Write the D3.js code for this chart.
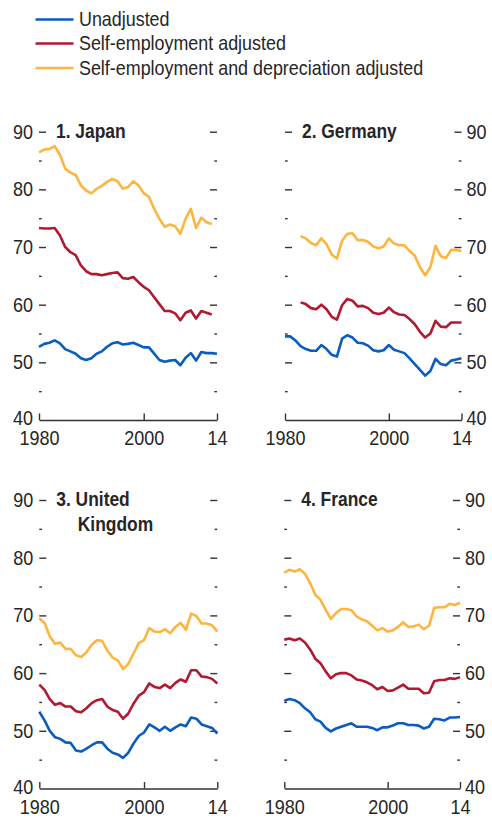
<!DOCTYPE html>
<html>
<head>
<meta charset="utf-8">
<script src="https://cdn.jsdelivr.net/npm/d3@7"></script>
<style>
  html, body { margin: 0; padding: 0; background: #fff; }
  svg text { font-family: "Liberation Sans", Arial, sans-serif; fill: #262626; }
</style>
</head>
<body>
<svg id="chart" width="492" height="821"></svg>
<script>
const years = d3.range(1980, 2015);
const seriesNames = ["Unadjusted", "Self-employment adjusted", "Self-employment and depreciation adjusted"];
const seriesColors = ["#0b5cbf", "#b0192f", "#fdb540"];
const panelTitles = [["1. Japan"], ["2. Germany"], ["3. United", "Kingdom"], ["4. France"]];
const yMajorTicks = [40, 50, 60, 70, 80, 90];
const yMinorTicks = [45, 55, 65, 75, 85];
const xTicks = [1980, 2000, 2014];
const xTickLabels = ["1980", "2000", "14"];

const japanUnadj = [52.7,53.2,53.4,53.8,53.3,52.3,51.9,51.5,50.7,50.4, 50.7,51.5,51.9,52.7,53.3,53.5,53.1,53.2,53.4,53.0, 52.6,52.6,51.5,50.4,50.1,50.3,50.4,49.5,50.8,51.6, 50.3,51.8,51.6,51.6,51.5];
const japanSelf = [73.3,73.2,73.2,73.3,72.0,70.0,69.1,68.6,66.8,65.8, 65.3,65.3,65.1,65.3,65.5,65.6,64.6,64.5,64.8,63.9, 63.1,62.5,61.3,60.1,58.9,58.9,58.5,57.3,58.6,59.0, 57.6,58.9,58.6,58.3,null];
const japanDep = [86.4,86.9,87.0,87.5,86.0,83.6,82.9,82.5,80.7,79.8, 79.3,80.1,80.6,81.3,81.8,81.4,80.1,80.4,81.4,80.7, 79.3,78.7,76.6,74.9,73.5,73.9,73.6,72.3,74.9,76.6, 73.3,75.1,74.3,74.0,null];

const germanyUnadj = [54.5,54.5,53.8,52.8,52.3,52.0,52.0,53.0,52.3,51.3, 51.0,54.1,54.7,54.3,53.4,53.3,52.9,52.1,51.9,52.1, 53.0,52.2,51.9,51.6,50.7,49.7,48.7,47.7,48.5,50.6, 49.7,49.5,50.3,50.5,50.7];
const germanySelf = [null,null,null,60.4,60.1,59.4,59.2,60.0,59.2,57.9, 57.4,59.9,61.0,60.7,59.7,59.8,59.4,58.6,58.4,58.6, 59.5,58.7,58.3,58.2,57.5,56.6,55.3,54.3,55.0,57.2, 56.2,56.1,56.9,56.9,56.9];
const germanyDep = [null,null,null,71.9,71.5,70.7,70.3,71.5,70.5,68.7, 68.0,71.1,72.3,72.4,71.2,71.2,70.9,70.1,69.8,70.1, 71.5,70.6,70.3,70.3,69.3,68.5,66.5,65.1,66.5,70.2, 68.4,68.1,69.5,69.5,69.3];

const ukUnadj = [53.3,51.8,50.0,48.9,48.6,48.0,47.9,46.6,46.4,46.9, 47.5,48.0,48.0,46.9,46.2,45.9,45.3,46.2,47.8,49.1, 49.7,51.1,50.6,50.0,50.7,50.0,50.6,51.1,50.8,52.3, 52.1,51.1,50.8,50.5,49.5];
const ukSelf = [58.0,57.1,55.5,54.5,54.8,54.2,54.2,53.4,53.2,53.9, 54.8,55.3,55.5,54.2,53.6,53.3,52.1,53.0,54.7,56.1, 56.7,58.2,57.6,57.4,58.0,57.4,58.3,58.9,58.5,60.5, 60.5,59.4,59.3,59.0,58.2];
const ukDep = [69.5,68.7,66.4,65.1,65.3,64.2,64.2,63.1,62.8,63.6, 64.9,65.7,65.6,63.9,62.7,62.2,60.7,61.6,63.4,65.2, 65.7,67.8,67.2,67.1,67.6,66.9,68.0,68.7,67.5,70.3, 69.9,68.6,68.6,68.3,67.2];

const franceUnadj = [55.2,55.5,55.3,54.8,53.9,53.2,52.0,51.6,50.5,49.9, 50.4,50.7,51.0,51.3,50.7,50.7,50.7,50.5,50.1,50.6, 50.6,50.9,51.3,51.3,51.0,51.0,50.9,50.4,50.7,52.1, 52.0,51.8,52.3,52.3,52.4];
const franceSelf = [65.8,66.0,65.7,66.0,65.3,64.1,62.5,61.7,60.3,59.1, 59.8,60.0,60.0,59.6,58.9,58.7,58.4,57.9,57.2,57.6, 56.9,57.0,57.5,58.0,57.3,57.3,57.3,56.5,56.6,58.6, 58.8,58.8,59.1,59.0,59.3];
const franceDep = [77.4,77.9,77.6,78.0,77.2,75.6,73.6,72.7,71.0,69.4, 70.4,71.1,71.1,70.9,69.8,69.3,69.0,68.2,67.4,67.8, 67.2,67.4,68.0,68.8,68.0,68.1,68.4,67.6,68.2,71.3, 71.4,71.4,72.0,71.8,72.2];

const panelData = [
  [japanUnadj, japanSelf, japanDep],
  [germanyUnadj, germanySelf, germanyDep],
  [ukUnadj, ukSelf, ukDep],
  [franceUnadj, franceSelf, franceDep]
];

// layout
const layout = [
  {x0: 39, x1: 217, yTop: 131.7, yBot: 420, labelSide: "left"},
  {x0: 285, x1: 461.5, yTop: 131.7, yBot: 420, labelSide: "right"},
  {x0: 39.3, x1: 217.3, yTop: 500, yBot: 788.5, labelSide: "left"},
  {x0: 284.3, x1: 460, yTop: 500, yBot: 788.5, labelSide: "right"}
];

const svg = d3.select("#chart");
const tickColor = "#333";
const NUM_FS = 20, NUM_K = 0.9;
const LEG_FS = 20, LEG_K = 0.895;
const TTL_FS = 20, TTL_K = 0.87;

// horizontally condense text (reference uses a condensed face)
function squeeze(sel, k) {
  sel.each(function() {
    const t = d3.select(this);
    const x = +(t.attr("x") || 0);
    t.attr("x", x / k).attr("transform", `scale(${k},1)`);
    t.selectAll("tspan").each(function() {
      const ts = d3.select(this);
      if (ts.attr("x") != null) ts.attr("x", +ts.attr("x") / k);
    });
  });
}

// Legend
const legend = svg.append("g");
const legendY = [19.5, 43.5, 68];
seriesNames.forEach((name, i) => {
  legend.append("line").attr("x1", 35.5).attr("x2", 73.5).attr("y1", legendY[i]).attr("y2", legendY[i])
    .attr("stroke", seriesColors[i]).attr("stroke-width", 2.4);
  legend.append("text").attr("class", "lg").attr("x", 79).attr("y", legendY[i] + 7).attr("font-size", LEG_FS).text(name);
});
squeeze(legend.selectAll("text.lg"), LEG_K);

layout.forEach((L, p) => {
  const x = d3.scaleLinear().domain([1980, 2014]).range([L.x0, L.x1]);
  const y = d3.scaleLinear().domain([40, 90]).range([L.yBot, L.yTop]);
  const g = svg.append("g");

  const majors = yMajorTicks.filter(v => v > 40);
  const leftMajor = d3.axisLeft(y).tickValues(majors).tickSizeInner(-7).tickSizeOuter(0).tickPadding(6)
    .tickFormat(L.labelSide === "left" ? d3.format("d") : () => "");
  const gl = g.append("g").attr("transform", `translate(${L.x0},0)`).call(leftMajor);
  const rightMajor = d3.axisRight(y).tickValues(majors).tickSizeInner(-7).tickSizeOuter(0).tickPadding(5)
    .tickFormat(L.labelSide === "right" ? d3.format("d") : () => "");
  const gr = g.append("g").attr("transform", `translate(${L.x1},0)`).call(rightMajor);
  [gl, gr].forEach(a => { a.select(".domain").remove(); });

  const lab40 = L.labelSide === "left"
    ? g.append("text").attr("x", L.x0 - 6).attr("text-anchor", "end")
    : g.append("text").attr("x", L.x1 + 5).attr("text-anchor", "start");
  lab40.attr("class", "ylab40").attr("y", y(40) - 1).attr("dy", "0.32em").attr("font-size", NUM_FS).text(d3.format("d")(yMajorTicks[0]));

  const leftMinor = d3.axisLeft(y).tickValues(yMinorTicks).tickSizeInner(-2.7).tickSizeOuter(0).tickFormat(() => "");
  const rightMinor = d3.axisRight(y).tickValues(yMinorTicks).tickSizeInner(-2.7).tickSizeOuter(0).tickFormat(() => "");
  const gml = g.append("g").attr("transform", `translate(${L.x0},0)`).call(leftMinor);
  const gmr = g.append("g").attr("transform", `translate(${L.x1},0)`).call(rightMinor);
  [gml, gmr].forEach(a => a.select(".domain").remove());

  const xAxis = d3.axisBottom(x).tickValues(xTicks).tickSizeInner(-6.5).tickSizeOuter(0).tickPadding(11)
    .tickFormat((d, i) => xTickLabels[i]);
  g.append("g").attr("transform", `translate(0,${L.yBot})`).call(xAxis);

  g.selectAll(".tick line, .domain").attr("stroke", tickColor).attr("stroke-width", 1.4);
  g.selectAll(".tick text").attr("font-size", NUM_FS).attr("fill", "#262626")
    .style("font-family", '"Liberation Sans", Arial, sans-serif');
  squeeze(g.selectAll(".tick text"), NUM_K);
  squeeze(g.selectAll("text.ylab40"), NUM_K);

  // lines
  const line = d3.line().defined(d => d[1] != null).x(d => x(d[0])).y(d => y(d[1]));
  panelData[p].forEach((vals, s) => {
    const pts = years.map((yr, i) => [yr, vals[i]]);
    g.append("path").datum(pts).attr("fill", "none").attr("stroke", seriesColors[s])
      .attr("stroke-width", 2.6).attr("stroke-linejoin", "round").attr("d", line);
  });

  // title
  const t = panelTitles[p];
  const tx = L.x0 + 17;
  const tt = g.append("text").attr("x", tx).attr("y", L.yTop + 6.5).attr("font-size", TTL_FS)
    .attr("font-weight", "bold").attr("fill", "#222");
  tt.append("tspan").attr("x", tx).text(t[0]);
  if (t.length > 1) {
    tt.append("tspan").attr("x", tx + 21.5).attr("dy", 24.5).text(t[1]);
  }
  squeeze(tt, TTL_K);
});
</script>
</body>
</html>
